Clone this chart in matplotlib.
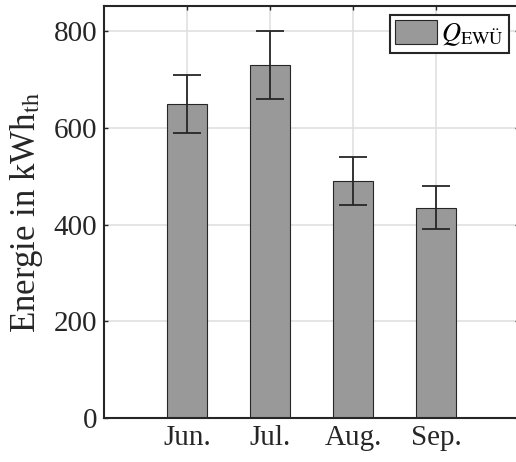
import matplotlib
matplotlib.use('Agg')
import matplotlib.pyplot as plt
import numpy as np

# Daten
monate = ['Jun.', 'Jul.', 'Aug.', 'Sep.']
energie = [650, 730, 490, 435]
fehler_unten = [60, 70, 50, 45]
fehler_oben = [60, 70, 50, 45]

plt.rcParams['font.family'] = 'Liberation Serif'
plt.rcParams['mathtext.fontset'] = 'stix'

fig = plt.figure(figsize=(5.16, 4.62), dpi=100)
ax = fig.add_axes([104/516, 44/462, 415/516, 412/462])

x = np.arange(1, len(monate) + 1)
ax.bar(x, energie, width=0.47, color='#999999', edgecolor='#262626',
       linewidth=0.8, label=r'$Q_\mathrm{EWÜ}$', zorder=2)
ax.errorbar(x, energie, yerr=[fehler_unten, fehler_oben], fmt='none',
            ecolor='#262626', elinewidth=1.3, capsize=10, capthick=1.3, zorder=3)

ax.set_xlim(0, 5)
ax.set_ylim(0, 852)
ax.set_xticks(x)
ax.set_xticklabels(monate)
ax.set_yticks([0, 200, 400, 600, 800])
ax.grid(True, color='#e0e0e0', linewidth=1.2, zorder=0)
ax.set_axisbelow(True)
ax.tick_params(direction='in', top=True, right=True, length=3, width=1,
               labelsize=21, color='#262626', labelcolor='#262626', pad=5)
for s in ax.spines.values():
    s.set_linewidth(1.5)
    s.set_color('#262626')
ax.set_ylabel(r'Energie in kWh$_\mathrm{th}$', fontsize=25, color='#262626',
              labelpad=6)

leg = ax.legend(loc='upper right', bbox_to_anchor=(0.976, 0.978), fontsize=19,
                fancybox=False, framealpha=1, edgecolor='#262626',
                handlelength=1.6, handleheight=1.0, handletextpad=0.15,
                borderpad=0.2, borderaxespad=0)
leg.get_frame().set_linewidth(1.5)

fig.savefig('out.png', dpi=100)
